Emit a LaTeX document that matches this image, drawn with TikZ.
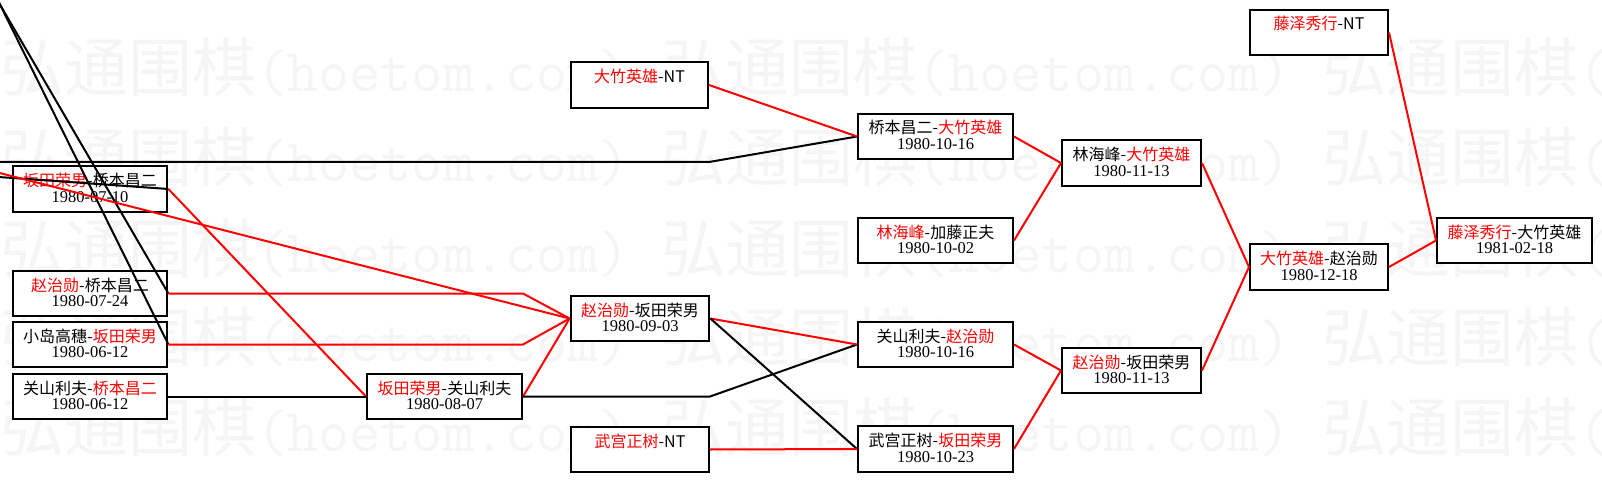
\documentclass[tikz,border=0pt]{standalone}
\usepackage{fontspec}
\newfontfamily\cjk{Noto Sans CJK SC}
\newfontfamily\dtfont{Liberation Serif}
\usetikzlibrary{calc}
\newcommand\boxfont{\cjk\fontsize{16}{15.6}\selectfont}
\newcommand\wmfont{\cjk\fontsize{64}{64}\selectfont}
\newcommand\wmt[1]{{\ttfamily\fontsize{60.5}{64}\selectfont #1}}
\newcommand\dt[1]{{\dtfont\fontsize{16.5}{15.6}\selectfont #1}}
\newcommand\rd[1]{\textcolor{red}{#1}}
\newcommand\la{\rule{0pt}{15pt}}
\newcommand\lb{\rule[-4.4pt]{0pt}{4.4pt}}
\newcommand\wmrow{弘通围棋\wmt{(hoetom.com) }弘通围棋\wmt{(hoetom.com) }弘通围棋\wmt{(hoetom.com)}}
\tikzset{
  box/.style={draw=black, fill=white, line width=2pt, inner sep=0pt, align=center, font=\boxfont},
  heavybox/.style={box, line width=2.8pt},
  conr/.style={draw=red, line width=2pt},
  conk/.style={draw=black, line width=2pt},
  wm/.style={anchor=base west, inner sep=0pt, text=black!4, font=\wmfont}
}
% style, name, x1, y1, x2, y2, text
\newcommand\mkbox[7]{%
  \node[#1, minimum width={(#5)-(#3)}, minimum height={(#6)-(#4)}]
    (#2) at ({((#3)+(#5))/2},{((#4)+(#6))/2}) {#7};}
\begin{document}
\begin{tikzpicture}[x=1pt,y=-1pt]
\useasboundingbox (0,0) rectangle (1602,481);
\clip (0,0) rectangle (1602,481);
\fill[white] (0,0) rectangle (1602,481);
% watermark
\node[wm] (wm1) at (0,92) {\wmrow};
\node[wm] (wm2) at (0,182) {\wmrow};
\node[wm] (wm3) at (0,272) {\wmrow};
\node[wm] (wm4) at (0,361) {\wmrow};
\node[wm] (wm5) at (0,451) {\wmrow};
% boxes
\mkbox{heavybox}{A}{13}{166}{167}{212}{\la\rd{坂田荣男}-桥本昌二\\\dt{1980-07-10}\lb}
\mkbox{heavybox}{B}{13}{271}{167}{316}{\la\rd{赵治勋}-桥本昌二\\\dt{1980-07-24}\lb}
\mkbox{heavybox}{C}{13}{322}{167}{367}{\la 小岛高穗-\rd{坂田荣男}\\\dt{1980-06-12}\lb}
\mkbox{box}{D}{13}{374}{167}{419}{\la 关山利夫-\rd{桥本昌二}\\\dt{1980-06-12}\lb}
\mkbox{box}{E}{367}{374}{522}{419}{\la\rd{坂田荣男}-关山利夫\\\dt{1980-08-07}\lb}
\mkbox{box}{F}{571}{62}{708}{108}{\la\rd{大竹英雄}-NT\\\lb}
\mkbox{heavybox}{G}{571}{296}{709}{341}{\la\rd{赵治勋}-坂田荣男\\\dt{1980-09-03}\lb}
\mkbox{box}{H}{571}{427}{709}{472}{\la\rd{武宫正树}-NT\\\lb}
\mkbox{box}{I}{858}{114}{1013}{159}{\la 桥本昌二-\rd{大竹英雄}\\\dt{1980-10-16}\lb}
\mkbox{box}{J}{858}{218}{1013}{263}{\la\rd{林海峰}-加藤正夫\\\dt{1980-10-02}\lb}
\mkbox{box}{K}{858}{322}{1013}{367}{\la 关山利夫-\rd{赵治勋}\\\dt{1980-10-16}\lb}
\mkbox{box}{L}{858}{426}{1013}{472}{\la 武宫正树-\rd{坂田荣男}\\\dt{1980-10-23}\lb}
\mkbox{box}{M}{1062}{140}{1201}{186}{\la 林海峰-\rd{大竹英雄}\\\dt{1980-11-13}\lb}
\mkbox{box}{N}{1062}{348}{1201}{393}{\la\rd{赵治勋}-坂田荣男\\\dt{1980-11-13}\lb}
\mkbox{box}{O}{1250}{244}{1388}{290}{\la\rd{大竹英雄}-赵治勋\\\dt{1980-12-18}\lb}
\mkbox{box}{P}{1250}{10}{1388}{55}{\la\rd{藤泽秀行}-NT\\\lb}
\mkbox{box}{Q}{1437}{218}{1592}{263}{\la\rd{藤泽秀行}-大竹英雄\\\dt{1981-02-18}\lb}
% off-canvas ends
\coordinate (o1) at (-20,162);
\coordinate (o2) at (-26,-40);
\coordinate (o3) at (-22,-40);
\coordinate (o4) at (-20,168);
\coordinate (o5) at (-20,175.7);
% connectors
\draw[conk] (o1) -- (o1 -| F.east) -- (I.west);
\draw[conk] (o2) -- (B.east);
\draw[conk] (o3) -- (C.east);
\draw[conk] (o5) -- (A.east);
\draw[conr] (o4) -- (G.west);
\draw[conr] (A.east) -- (E.west);
\draw[conr] (B.east) -- (B.east -| E.east) -- (G.west);
\draw[conr] (C.east) -- (C.east -| E.east) -- (G.west);
\draw[conk] (D.east) -- (E.west);
\draw[conr] (E.east) -- (G.west);
\draw[conk] (E.east) -- (E.east -| H.east) -- (K.west);
\draw[conr] (F.east) -- (I.west);
\draw[conr] (G.east) -- (K.west);
\draw[conk] (G.east) -- (L.west);
\draw[conr] (H.east) -- (L.west);
\draw[conr] (I.east) -- (M.west);
\draw[conr] (J.east) -- (M.west);
\draw[conr] (K.east) -- (N.west);
\draw[conr] (L.east) -- (N.west);
\draw[conr] (M.east) -- (O.west);
\draw[conr] (N.east) -- (O.west);
\draw[conr] (O.east) -- (Q.west);
\draw[conr] (P.east) -- (Q.west);
\end{tikzpicture}
\end{document}
